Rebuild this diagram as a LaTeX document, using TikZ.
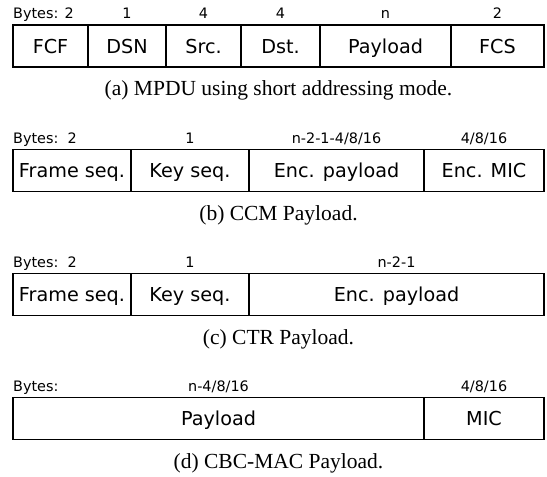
\documentclass[tikz,border=0pt]{standalone}
\usepackage{fontspec}
\setmainfont{Liberation Serif}
\newfontfamily\dvsans{DejaVu Sans}
\usetikzlibrary{positioning,calc}
\tikzset{
  fld/.style={draw,line width=1.3pt,outer sep=0pt,inner sep=0pt,minimum height=42pt,text height=18pt,text depth=4pt,font=\dvsans\fontsize{19.2}{23}\selectfont},
  hdr/.style={inner sep=0pt,text height=10.5pt,text depth=3pt,font=\dvsans\fontsize{14.4}{17}\selectfont},
  captxt/.style={inner sep=0pt,text height=14.5pt,text depth=4pt,font=\fontsize{21.5}{25}\selectfont},
}
\begin{document}
\begin{tikzpicture}[x=1pt,y=-1pt,node distance=3pt]
\useasboundingbox (0,0) rectangle (547,477);
% (a) MPDU
\node[fld,minimum width=75pt,anchor=north west] (fcf) at (13,25) {FCF};
\node[fld,minimum width=78pt,right=0pt of fcf] (dsn) {DSN};
\node[fld,minimum width=75pt,right=0pt of dsn] (src) {Src.};
\node[fld,minimum width=79pt,right=0pt of src] (dst) {Dst.};
\node[fld,minimum width=131pt,right=0pt of dst] (pla) {Payload};
\node[fld,minimum width=93pt,right=0pt of pla] (fcs) {FCS};
\node[hdr,above right=3pt and 0pt of fcf.north west] (bya) {Bytes: 2};
\node[hdr,above=of dsn] (hdsn) {1};
\node[hdr,above=of src] (hsrc) {4};
\node[hdr,above=of dst] (hdst) {4};
\node[hdr,above=of pla] (hpla) {n};
\node[hdr,above=of fcs] (hfcs) {2};
\coordinate (amid) at ($(fcf.south west)!.5!(fcs.south east)$);
\node[captxt,below=14pt of amid] (capa) {(a) MPDU using short addressing mode.};

% (b) CCM
\node[fld,minimum width=118pt,anchor=north west] (fsb) at (13,149.3) {Frame seq.};
\node[fld,minimum width=118pt,right=0pt of fsb] (ksb) {Key seq.};
\node[fld,minimum width=175pt,right=0pt of ksb] (epb) {Enc. payload};
\node[fld,minimum width=120pt,right=0pt of epb] (emb) {Enc. MIC};
\node[hdr,above right=3pt and 0pt of fsb.north west] (byb) {Bytes:~~2};
\node[hdr,above=of ksb] (hksb) {1};
\node[hdr,above=of epb] (hepb) {n-2-1-4/8/16};
\node[hdr,above=of emb] (hemb) {4/8/16};
\coordinate (bmid) at ($(fsb.south west)!.5!(emb.south east)$);
\node[captxt,below=14pt of bmid] (capb) {(b) CCM Payload.};

% (c) CTR
\node[fld,minimum width=118pt,anchor=north west] (fsc) at (13,273.3) {Frame seq.};
\node[fld,minimum width=118pt,right=0pt of fsc] (ksc) {Key seq.};
\node[fld,minimum width=295pt,right=0pt of ksc] (epc) {Enc. payload};
\node[hdr,above right=3pt and 0pt of fsc.north west] (byc) {Bytes:~~2};
\node[hdr,above=of ksc] (hksc) {1};
\node[hdr,above=of epc] (hepc) {n-2-1};
\coordinate (cmid) at ($(fsc.south west)!.5!(epc.south east)$);
\node[captxt,below=14pt of cmid] (capc) {(c) CTR Payload.};

% (d) CBC-MAC
\node[fld,minimum width=411pt,anchor=north west] (pld) at (13,397.3) {Payload};
\node[fld,minimum width=120pt,right=0pt of pld] (mic) {MIC};
\node[hdr,above right=3pt and 0pt of pld.north west] (byd) {Bytes:};
\node[hdr,above=of pld] (hpld) {n-4/8/16};
\node[hdr,above=of mic] (hmic) {4/8/16};
\coordinate (dmid) at ($(pld.south west)!.5!(mic.south east)$);
\node[captxt,below=14pt of dmid] (capd) {(d) CBC-MAC Payload.};
\end{tikzpicture}
\end{document}
